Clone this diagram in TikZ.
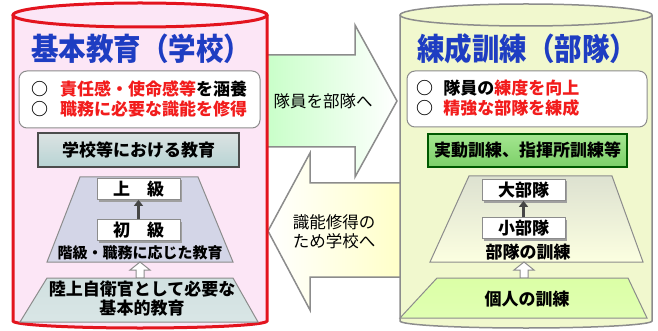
\documentclass[tikz,border=0pt]{standalone}
\usepackage{fontspec}
\setmainfont{Noto Sans CJK JP}
\usetikzlibrary{calc,arrows.meta,shadows}

\definecolor{schoolRed}{HTML}{E3141E}
\definecolor{schoolPink}{HTML}{FCE6F6}
\definecolor{unitYellow}{HTML}{F1F8CE}
\definecolor{titleBlue}{HTML}{1E3DC2}
\definecolor{pointRed}{HTML}{F21C1C}
\definecolor{edgeGray}{HTML}{8C8C8C}
\definecolor{levelLavender}{HTML}{D3D5E7}
\definecolor{barGreenTop}{HTML}{A4E690}
\definecolor{barGreenBottom}{HTML}{7CCF68}

\newcommand{\drawCylinder}[7]{%
    \pgfmathsetmacro{\cylRx}{(#2-#1)/2}%
    \pgfmathsetmacro{\cylCx}{(#1+#2)/2}%
    \fill[#6] (#1,#3) -- (#1,#4) arc [start angle=180, end angle=0, x radius=\cylRx, y radius=7]
        -- (#2,#3) arc [start angle=0, end angle=-180, x radius=\cylRx, y radius=#5] -- cycle;
    \draw[#7] (#1,#3) -- (#1,#4) arc [start angle=180, end angle=0, x radius=\cylRx, y radius=7] -- (#2,#3);
    \draw[#7] (\cylCx,#3) ellipse [x radius=\cylRx, y radius=#5];
}
\newcommand{\hollowArrow}[3]{%
    \draw[fill=white,draw=edgeGray,line width=1pt]
        (#1-4,#2) -- (#1-4,#3+8) -- (#1-10,#3+8) -- (#1,#3)
        -- (#1+10,#3+8) -- (#1+4,#3+8) -- (#1+4,#2) -- cycle;
}

\begin{document}
\begin{tikzpicture}[x=1pt,y=-1pt,
    every node/.style={font=\fontsize{17}{20}\selectfont\bfseries},
    title/.style={text=titleBlue,yscale=1.12,font=\fontsize{27.5}{30}\selectfont\bfseries},
    pointbox/.style={draw=edgeGray,fill=white,rounded corners=8pt,line width=1pt},
    levelbox/.style={draw=edgeGray,fill=white,line width=0.8pt,minimum width=83pt,minimum height=21pt,inner sep=0pt,
        drop shadow={shadow xshift=2pt,shadow yshift=-2pt,fill=gray!75,opacity=1}},
    levelarrow/.style={-{Triangle[length=6pt,width=9pt]},line width=3pt,draw=gray!55!black},
    bigarrow/.style={draw=edgeGray,line width=1.5pt},
    plain/.style={font=\fontsize{16.5}{19}\selectfont}]
\useasboundingbox (0,0) rectangle (658,331);

% arrows between the two
\shade[bigarrow,left color=green!22,right color=white]
    (262,55) -- (355,55) -- (355,25) -- (397,101) -- (355,177) -- (355,147) -- (262,147) -- cycle;
\node[plain] (toUnitText) at (323,101) {隊員を部隊へ};
\shade[bigarrow,left color=white,right color=yellow!22]
    (404,183) -- (310,183) -- (310,153) -- (268,231) -- (310,310) -- (310,277) -- (404,277) -- cycle;
\node[plain,align=left] (toSchoolText) at (334,232) {識能修得の\\ため学校へ};

% school side
\drawCylinder{13}{267}{15}{321}{12}{schoolPink}{schoolRed,line width=3pt}
\node[title] (schoolTitle) at (141,49) {基本教育（学校）};
\node[pointbox,minimum width=241pt,minimum height=57pt] (schoolPoints) at (139.5,99.5) {};
\node[anchor=west,align=left,inner sep=0pt] (schoolPointText) at (31,98.5)
    {○\hspace{0.7em}\textcolor{pointRed}{責任感・使命感等}を涵養\\○\hspace{0.7em}\textcolor{pointRed}{職務に必要な識能を修得}};
\node[draw=gray!60!black,line width=2pt,top color=cyan!10!gray!25,bottom color=cyan!25!gray!45,
    minimum width=201pt,minimum height=34pt] (schoolBar) at (138.5,150) {学校等における教育};
\fill[levelLavender,draw=edgeGray,line width=1pt]
    (80,177) -- (198,177) -- (233,262) -- (47,262) -- cycle;
\foreach \name/\y/\txt in {jokyu/189/上　級, shokyu/230/初　級}
    \node[levelbox] (\name) at (138.5,\y) {\txt};
\draw[levelarrow] (shokyu) -- (jokyu);
\node[font=\fontsize{15}{18}\selectfont\bfseries] (schoolLevelText) at (140,253) {階級・職務に応じた教育};
\hollowArrow{140}{278}{262}
\shade[draw=edgeGray,line width=1pt,top color=cyan!20!gray!30,middle color=white,bottom color=cyan!20!gray!25]
    (47,278) -- (233,278) -- (258,322) -- (20,322) -- cycle;
\node[align=center,font=\fontsize{17}{19}\selectfont\bfseries] (schoolBaseText) at (142,299) {陸上自衛官として必要な\\基本的教育};

% unit side
\drawCylinder{400}{652}{15}{321}{11}{unitYellow}{edgeGray,line width=1.5pt}
\node[title] (unitTitle) at (527,49) {練成訓練（部隊）};
\node[pointbox,minimum width=240pt,minimum height=56pt] (unitPoints) at (527,99) {};
\node[anchor=west,align=left,inner sep=0pt] (unitPointText) at (416,98.5)
    {○\hspace{0.6em}隊員の\textcolor{pointRed}{練度を向上}\\○\hspace{0.6em}\textcolor{pointRed}{精強な部隊を練成}};
\node[draw=green!35!black,line width=2pt,top color=barGreenTop,bottom color=barGreenBottom,
    minimum width=199pt,minimum height=33pt] (unitBar) at (527.5,150.5) {実動訓練、指揮所訓練等};
\shade[draw=edgeGray,line width=1pt,top color=green!25!yellow!22!gray!30,bottom color=green!10!yellow!12]
    (469,176) -- (612,176) -- (643,262) -- (430,262) -- cycle;
\foreach \name/\y/\txt in {daibutai/190/大部隊, shobutai/228/小部隊}
    \node[levelbox] (\name) at (523.5,\y) {\txt};
\draw[levelarrow] (shobutai) -- (daibutai);
\node (unitLevelText) at (528,252) {部隊の訓練};
\hollowArrow{524}{278}{262}
\shade[draw=edgeGray,line width=1pt,top color=green!40!yellow!35,middle color=white,bottom color=green!40!yellow!30]
    (437,278) -- (628,278) -- (647,318) -- (400,318) -- cycle;
\node (unitBaseText) at (527,299) {個人の訓練};
\end{tikzpicture}
\end{document}
